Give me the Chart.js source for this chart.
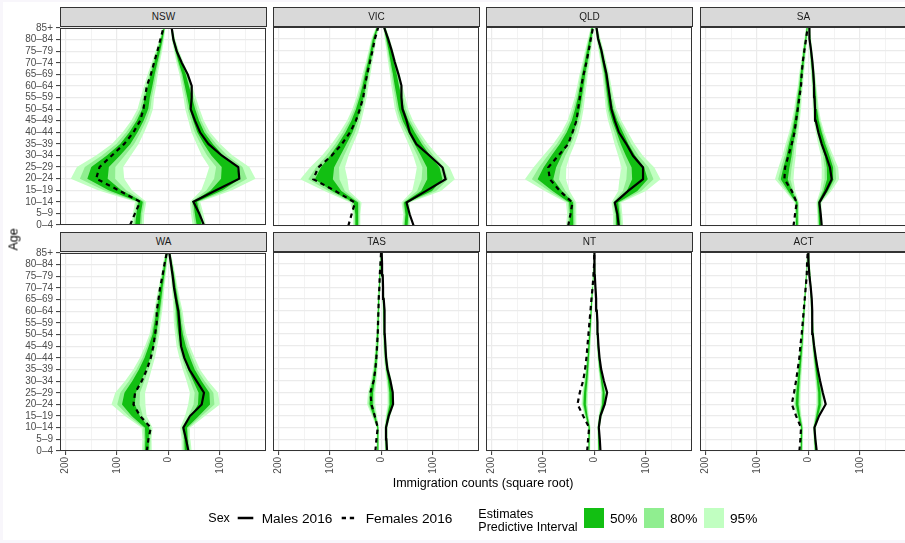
<!DOCTYPE html>
<html><head><meta charset="utf-8">
<script src="https://cdn.jsdelivr.net/npm/chart.js@4.4.1/dist/chart.umd.min.js"></script>
<style>
html,body{margin:0;padding:0;}
body{width:905px;height:543px;background:#f8f6fb;position:relative;overflow:hidden;font-family:"Liberation Sans",Arial,Helvetica,sans-serif;}
#bg{position:absolute;left:3px;top:2px;width:902px;height:538px;background:#fff;}
canvas{position:absolute;}
.strip{position:absolute;box-sizing:border-box;height:20px;background:#D9D9D9;border:1px solid #333;color:#1A1A1A;font-size:10px;text-align:center;line-height:18px;}
.txt{position:absolute;white-space:nowrap;color:#000;}
.box{position:absolute;width:20px;height:20px;}
</style></head><body>
<div id="bg"></div>
<div id="panels"></div>
<div class="txt" style="left:0;top:232px;width:28px;height:15px;font-size:12.5px;line-height:15px;text-align:center;transform:rotate(-90deg);transform-origin:14px 7.5px;">Age</div>
<div class="txt" style="left:283px;width:400px;top:475.5px;font-size:12.5px;line-height:15px;text-align:center;">Immigration counts (square root)</div>
<div class="txt" style="left:208.3px;top:511px;font-size:12.5px;line-height:15px;">Sex</div>
<svg style="position:absolute;left:237px;top:512px;" width="18" height="12"><line x1="0.7" y1="6" x2="16.3" y2="6" stroke="#000" stroke-width="2.5"/></svg>
<div class="txt" style="left:261.7px;top:510px;font-size:13.7px;line-height:17px;">Males 2016</div>
<svg style="position:absolute;left:341px;top:512px;" width="18" height="12"><line x1="0.7" y1="6" x2="15.7" y2="6" stroke="#000" stroke-width="2.5" stroke-dasharray="4.3 3.8"/></svg>
<div class="txt" style="left:365.7px;top:510px;font-size:13.7px;line-height:17px;">Females 2016</div>
<div class="txt" style="left:478.3px;top:507.5px;font-size:12.5px;line-height:13.5px;">Estimates<br>Predictive Interval</div>
<div class="box" style="left:584px;top:507.7px;background:#12BF12;"></div>
<div class="txt" style="left:610px;top:509.5px;font-size:13.7px;line-height:17px;">50%</div>
<div class="box" style="left:644px;top:507.7px;background:#90EE90;"></div>
<div class="txt" style="left:670px;top:509.5px;font-size:13.7px;line-height:17px;">80%</div>
<div class="box" style="left:704px;top:507.7px;background:#C1FFC1;"></div>
<div class="txt" style="left:730px;top:509.5px;font-size:13.7px;line-height:17px;">95%</div>
<script>
// ---------- categories & ticks ----------
const ages = ['0\u20134','5\u20139','10\u201314','15\u201319','20\u201324','25\u201329','30\u201334','35\u201339','40\u201344','45\u201349','50\u201354','55\u201359','60\u201364','65\u201369','70\u201374','75\u201379','80\u201384','85+'];
const states = ['NSW','VIC','QLD','SA','WA','TAS','NT','ACT'];
const xTickValues = [-200,-150,-100,-50,0,50,100,150];
const xTickLabels = ['200','','100','','0','','100',''];
const intervalLabels = ['50%','80%','95%'];

// ---------- NSW ----------
const nswMaleObs = [69, 60, 48.6, 92.7, 138, 136, 103.7, 77.8, 61.6, 51.8, 43.4, 45.4, 45.4, 37.6, 26, 16.2, 9.7, 6.5];
const nswMaleMid = [60, 56, 52, 94, 121, 118.6, 95, 77.8, 63, 54, 46.7, 41.5, 36, 30.5, 22.7, 16, 10, 6.5];
const nswMaleW95 = [13, 12, 10, 30, 48.6, 39, 30, 23, 18, 15, 14, 12, 10.5, 9, 7, 5, 3.5, 2];
const nswMaleW80 = [8.6, 7.9, 6.6, 19.8, 32, 25.7, 19.8, 15.2, 11.9, 9.9, 9.2, 7.9, 6.9, 5.9, 4.6, 3.3, 2.3, 1.3];
const nswMaleW50 = [4.9, 4.6, 3.8, 11.4, 18.5, 14.8, 11.4, 8.7, 6.8, 5.7, 5.3, 4.6, 4, 3.4, 2.7, 1.9, 1.3, 0.8];
const nswFemObs = [74.5, 65, 55, 97, 140.6, 134, 110, 86, 68, 55, 48.6, 45.4, 42, 34, 28, 21.4, 15.6, 9.7];
const nswFemMid = [60, 58, 54, 104, 138, 133, 107, 84, 68, 55, 45, 41, 35.6, 30.5, 24.6, 18.8, 13, 8.4];
const nswFemW95 = [12, 11, 11, 33, 52, 45, 34, 26, 21, 17.5, 15, 13, 11.7, 10, 8, 6.5, 4.5, 2.5];
const nswFemW80 = [7.9, 7.3, 7.3, 21.8, 34.3, 29.7, 22.4, 17.2, 13.9, 11.6, 9.9, 8.6, 7.7, 6.6, 5.3, 4.3, 3, 1.7];
const nswFemW50 = [4.6, 4.2, 4.2, 12.5, 19.8, 17.1, 12.9, 9.9, 8, 6.7, 5.7, 4.9, 4.4, 3.8, 3, 2.5, 1.7, 1];

// ---------- VIC ----------
const vicMaleObs = [63, 55, 49, 87, 125, 119, 94, 68, 55, 49, 41, 39, 39, 33, 26, 20, 13, 5];
const vicMaleMid = [48, 49.6, 47, 88, 104, 101, 86, 71.6, 58.6, 47, 39, 34.7, 30, 26, 21, 16.5, 11.3, 6];
const vicMaleW95 = [7.5, 7, 8, 28, 39, 32, 24, 19, 16, 14.5, 13, 12, 10.7, 9.7, 8, 6.5, 5, 2.5];
const vicMaleW80 = [5, 4.6, 5.3, 18.5, 25.7, 21.1, 15.8, 12.5, 10.6, 9.6, 8.6, 7.9, 7.1, 6.4, 5.3, 4.3, 3.3, 1.7];
const vicMaleW50 = [2.9, 2.7, 3, 10.6, 14.8, 12.2, 9.1, 7.2, 6.1, 5.5, 4.9, 4.6, 4.1, 3.7, 3, 2.5, 1.9, 1];
const vicFemObs = [64.5, 58, 51.5, 90, 132.5, 123, 97, 77, 61, 49.6, 41.8, 35.3, 32, 27.5, 22.4, 17.2, 12.6, 6];
const vicFemMid = [48, 48, 49.6, 87, 112, 105, 90, 76, 63, 53, 45, 38.6, 33.4, 28.8, 23.7, 19, 14.6, 7.5];
const vicFemW95 = [7, 7, 11, 24, 46, 34, 26, 21, 18, 14, 11.5, 10, 8.5, 7.8, 6.5, 5.8, 5, 3];
const vicFemW80 = [4.6, 4.6, 7.3, 15.8, 30.4, 22.4, 17.2, 13.9, 11.9, 9.2, 7.6, 6.6, 5.6, 5.1, 4.3, 3.8, 3.3, 2];
const vicFemW50 = [2.7, 2.7, 4.2, 9.1, 17.5, 12.9, 9.9, 8, 6.8, 5.3, 4.4, 3.8, 3.2, 3, 2.5, 2.2, 1.9, 1.1];

// ---------- QLD ----------
const qldMaleObs = [47.4, 44.7, 39.7, 65.7, 94.7, 94.7, 75.2, 62.3, 47.7, 39.7, 33.1, 29.9, 26.7, 23.4, 18.2, 13.7, 7.2, 4];
const qldMaleMid = [46.1, 45.4, 42.7, 73.3, 88.7, 84.7, 70.4, 58.7, 49.3, 39.7, 32.5, 28.7, 25.3, 22.1, 17.6, 13, 7.9, 3.3];
const qldMaleW95 = [10, 9, 9.5, 27, 40, 32, 24, 19.5, 16, 13, 10.4, 8.7, 7.5, 6.5, 5.8, 5, 3.9, 2.6];
const qldMaleW80 = [6.6, 5.9, 6.3, 17.8, 26.4, 21.1, 15.8, 12.9, 10.6, 8.6, 6.9, 5.7, 5, 4.3, 3.8, 3.3, 2.6, 1.7];
const qldMaleW50 = [3.8, 3.4, 3.6, 10.3, 15.2, 12.2, 9.1, 7.4, 6.1, 4.9, 4, 3.3, 2.9, 2.5, 2.2, 1.9, 1.5, 1];
const qldFemObs = [51.1, 46.6, 42.7, 67.3, 86.8, 90, 70.3, 51.1, 42.7, 34.9, 31.7, 28.3, 25.3, 20.7, 15.5, 10.9, 7, 2.5];
const qldFemMid = [45.3, 44, 45.3, 72.3, 95.3, 86.8, 73.8, 59.3, 47.3, 38.8, 33, 28.3, 24.3, 20.7, 16.1, 12.2, 7.7, 3.8];
const qldFemW95 = [10, 9, 10, 24, 40, 32, 26, 21, 17, 13.6, 12, 10, 9, 8, 7, 6, 5, 3];
const qldFemW80 = [6.6, 5.9, 6.6, 15.8, 26.4, 21.1, 17.2, 13.9, 11.2, 9, 7.9, 6.6, 5.9, 5.3, 4.6, 4, 3.3, 2];
const qldFemW50 = [3.8, 3.4, 3.8, 9.1, 15.2, 12.2, 9.9, 8, 6.5, 5.2, 4.6, 3.8, 3.4, 3, 2.7, 2.3, 1.9, 1.1];

// ---------- SA ----------
const saMaleObs = [26, 24, 21.4, 34.3, 45.4, 42, 34.3, 26, 19.4, 14.3, 13, 11.7, 11, 9.7, 7.8, 5.2, 2, 2];
const saMaleMid = [22.7, 21.7, 20.7, 33.7, 42.8, 42, 36.3, 29, 22.7, 17.5, 14.3, 13, 11, 9, 6.8, 4.9, 2.9, 1.3];
const saMaleW95 = [5, 4.5, 5, 11, 17, 16, 12, 10, 8.4, 7, 6, 5, 4.5, 4, 3.5, 3, 2.3, 2];
const saMaleW80 = [3.3, 3, 3.3, 7.3, 11.2, 10.6, 7.9, 6.6, 5.5, 4.6, 4, 3.3, 3, 2.6, 2.3, 2, 1.5, 1.3];
const saMaleW50 = [1.9, 1.7, 1.9, 4.2, 6.5, 6.1, 4.6, 3.8, 3.2, 2.7, 2.3, 1.9, 1.7, 1.5, 1.3, 1.1, 0.9, 0.8];
const saFemObs = [29, 26, 22.7, 32.4, 46.7, 45.4, 39, 32.4, 27, 24, 20.7, 17.5, 14.3, 13, 11, 7.8, 4.5, 1.3];
const saFemMid = [22.7, 22, 22.7, 35.6, 47, 42.8, 37.6, 33.7, 28.5, 24.6, 21, 18.8, 15.6, 13.3, 10.4, 8.1, 4.9, 2.3];
const saFemW95 = [4.5, 4, 4.5, 10, 18, 15.5, 13, 10.7, 9, 7.8, 6.8, 5.8, 5, 4.8, 4, 3.5, 3, 2.3];
const saFemW80 = [3, 2.6, 3, 6.6, 11.9, 10.2, 8.6, 7.1, 5.9, 5.1, 4.5, 3.8, 3.3, 3.2, 2.6, 2.3, 2, 1.5];
const saFemW50 = [1.7, 1.5, 1.7, 3.8, 6.8, 5.9, 4.9, 4.1, 3.4, 3, 2.6, 2.2, 1.9, 1.8, 1.5, 1.3, 1.1, 0.9];

// ---------- WA ----------
const waMaleObs = [39, 34.3, 29, 42, 64.8, 69.3, 55, 40.8, 31, 24.6, 22.7, 21.4, 19.4, 14.9, 11, 8.4, 5.2, 1.9];
const waMaleMid = [35.6, 34.3, 32.4, 51.8, 69.3, 69.3, 56.4, 44.7, 36.3, 29, 24, 20.7, 18.8, 15.6, 12.3, 9.4, 5.8, 2.3];
const waMaleW95 = [9.7, 8.7, 9.7, 19.4, 30.8, 27.5, 21, 16.8, 15, 13, 11, 10, 9, 7, 5.8, 4.8, 3.9, 2.3];
const waMaleW80 = [6.4, 5.7, 6.4, 12.8, 20.3, 18.2, 13.9, 11.1, 9.9, 8.6, 7.3, 6.6, 5.9, 4.6, 3.8, 3.2, 2.6, 1.5];
const waMaleW50 = [3.7, 3.3, 3.7, 7.4, 11.7, 10.5, 8, 6.4, 5.7, 4.9, 4.2, 3.8, 3.4, 2.7, 2.2, 1.8, 1.5, 0.9];
const waFemObs = [42, 38.9, 34.3, 55, 68, 64.8, 51.8, 42, 34.3, 29.2, 26, 22.7, 22.7, 19.4, 16.2, 11.7, 7.8, 3.2];
const waFemMid = [42, 41.5, 41.5, 63.5, 77.8, 74.5, 61.6, 50.5, 40.8, 33.7, 27.2, 24, 20, 16.8, 13.6, 10, 6.8, 3.2];
const waFemW95 = [9.7, 8.7, 10.7, 21, 33, 29, 22.7, 17.8, 14.6, 12, 9.7, 8.7, 7.8, 7, 5.8, 4.8, 4.2, 3.2];
const waFemW80 = [6.4, 5.7, 7.1, 13.9, 21.8, 19.1, 15, 11.7, 9.6, 7.9, 6.4, 5.7, 5.1, 4.6, 3.8, 3.2, 2.8, 2.1];
const waFemW50 = [3.7, 3.3, 4.1, 8, 12.5, 11, 8.6, 6.8, 5.5, 4.6, 3.7, 3.3, 3, 2.7, 2.2, 1.8, 1.6, 1.2];

// ---------- TAS ----------
const tasMaleObs = [11, 9.7, 9, 14.3, 22.7, 22, 17.5, 11.7, 9, 7.8, 6.5, 6.5, 5.8, 4.5, 3.2, 2.6, 1.3, 0.5];
const tasMaleMid = [10, 9.5, 9, 13, 18.5, 18, 15, 11, 8.5, 7, 6, 5.5, 5, 4, 3, 2.3, 1.5, 0.8];
const tasMaleW95 = [3, 3, 3, 4.5, 6.5, 6, 5, 4, 3.5, 3, 2.8, 2.5, 2.3, 2, 1.8, 1.5, 1.2, 1];
const tasMaleW80 = [2, 2, 2, 3, 4.3, 4, 3.3, 2.6, 2.3, 2, 1.8, 1.7, 1.5, 1.3, 1.2, 1, 0.8, 0.7];
const tasMaleW50 = [1.1, 1.1, 1.1, 1.7, 2.5, 2.3, 1.9, 1.5, 1.3, 1.1, 1.1, 1, 0.9, 0.8, 0.7, 0.6, 0.5, 0.4];
const tasFemObs = [11.7, 9.7, 7.1, 13, 19.4, 21.4, 15, 11.7, 9.7, 8.4, 7.1, 6.5, 5.8, 5.2, 3.9, 3.2, 1.9, 0.6];
const tasFemMid = [7, 7, 7, 13.5, 20, 19, 15, 12, 10, 8.5, 7.5, 6.8, 6, 5.2, 4.2, 3.2, 2.2, 1.2];
const tasFemW95 = [2.5, 2.5, 2.5, 5, 8, 7, 5.5, 4.5, 3.8, 3.3, 3, 2.7, 2.5, 2.2, 2, 1.6, 1.3, 1];
const tasFemW80 = [1.7, 1.7, 1.7, 3.3, 5.3, 4.6, 3.6, 3, 2.5, 2.2, 2, 1.8, 1.7, 1.5, 1.3, 1.1, 0.9, 0.7];
const tasFemW50 = [1, 1, 1, 1.9, 3, 2.7, 2.1, 1.7, 1.4, 1.3, 1.1, 1, 1, 0.8, 0.8, 0.6, 0.5, 0.4];

// ---------- NT ----------
const ntMaleObs = [11.8, 10.5, 8.6, 11.8, 20.2, 24.8, 18.3, 13.1, 9.9, 7.9, 6.6, 6, 4.7, 3.4, 2, 0.8, 0.2, 0];
const ntMaleMid = [9, 8.5, 8, 11.5, 17, 18, 14.5, 11, 8.8, 7.2, 6, 5.2, 4.3, 3.3, 2.3, 1.5, 0.8, 0.3];
const ntMaleW95 = [2.5, 2.3, 2.3, 3.5, 5, 5, 4, 3.2, 2.7, 2.3, 2, 1.8, 1.6, 1.4, 1.2, 1, 0.8, 0.6];
const ntMaleW80 = [1.7, 1.5, 1.5, 2.3, 3.3, 3.3, 2.6, 2.1, 1.8, 1.5, 1.3, 1.2, 1.1, 0.9, 0.8, 0.7, 0.5, 0.4];
const ntMaleW50 = [1, 0.9, 0.9, 1.3, 1.9, 1.9, 1.5, 1.2, 1, 0.9, 0.8, 0.7, 0.6, 0.5, 0.5, 0.4, 0.3, 0.2];
const ntFemObs = [14.1, 12.2, 10.2, 21.9, 32.9, 28.4, 21.9, 18, 15.4, 13.5, 11.5, 9.6, 7.6, 5.7, 3.5, 1.8, 0.5, 0.2];
const ntFemMid = [11, 10.5, 10, 15, 19, 18, 15.5, 13.5, 12, 10.5, 9, 7.7, 6.3, 5, 3.5, 2.3, 1.3, 0.6];
const ntFemW95 = [2.5, 2.5, 2.5, 4, 6, 5.5, 4.5, 3.8, 3.3, 3, 2.7, 2.5, 2.2, 2, 1.7, 1.4, 1.1, 0.8];
const ntFemW80 = [1.7, 1.7, 1.7, 2.6, 4, 3.6, 3, 2.5, 2.2, 2, 1.8, 1.7, 1.5, 1.3, 1.1, 0.9, 0.7, 0.5];
const ntFemW50 = [1, 1, 1, 1.5, 2.3, 2.1, 1.7, 1.4, 1.3, 1.1, 1, 1, 0.8, 0.8, 0.6, 0.5, 0.4, 0.3];

// ---------- ACT ----------
const actMaleObs = [16.2, 13.6, 11.7, 20.7, 33.7, 27.9, 22.7, 18.1, 14.3, 11, 8.4, 7.8, 7.1, 6.5, 4.5, 1.9, 0.3, 0];
const actMaleMid = [14, 13, 12, 17, 22, 21.5, 18.5, 15.5, 12.7, 10.5, 8.7, 7.7, 6.8, 5.8, 4.5, 3, 1.8, 0.8];
const actMaleW95 = [3, 3, 3, 4.5, 6.5, 6, 5, 4.3, 3.7, 3.2, 2.8, 2.5, 2.3, 2.1, 1.8, 1.5, 1.2, 0.8];
const actMaleW80 = [2, 2, 2, 3, 4.3, 4, 3.3, 2.8, 2.4, 2.1, 1.8, 1.7, 1.5, 1.4, 1.2, 1, 0.8, 0.5];
const actMaleW50 = [1.1, 1.1, 1.1, 1.7, 2.5, 2.3, 1.9, 1.6, 1.4, 1.2, 1.1, 1, 0.9, 0.8, 0.7, 0.6, 0.5, 0.3];
const actFemObs = [17.5, 15.6, 14.3, 24, 32.4, 27.9, 24, 20.7, 17.5, 15.6, 13, 11, 9.1, 7.1, 5.2, 3.2, 2.6, 1.3];
const actFemMid = [14, 13.5, 13, 18, 22, 21, 19, 17, 15, 13, 11.5, 10, 8.5, 7, 5.5, 4, 2.8, 1.5];
const actFemW95 = [3, 3, 3, 4.5, 6.5, 6, 5, 4.5, 4, 3.5, 3, 2.7, 2.4, 2.1, 1.8, 1.5, 1.2, 0.9];
const actFemW80 = [2, 2, 2, 3, 4.3, 4, 3.3, 3, 2.6, 2.3, 2, 1.8, 1.6, 1.4, 1.2, 1, 0.8, 0.6];
const actFemW50 = [1.1, 1.1, 1.1, 1.7, 2.5, 2.3, 1.9, 1.7, 1.5, 1.3, 1.1, 1, 0.9, 0.8, 0.7, 0.6, 0.5, 0.3];

// ---------- table built from the arrays ----------
const table = {
  NSW: {m: [nswMaleObs, nswMaleMid, nswMaleW50, nswMaleW80, nswMaleW95], f: [nswFemObs, nswFemMid, nswFemW50, nswFemW80, nswFemW95]},
  VIC: {m: [vicMaleObs, vicMaleMid, vicMaleW50, vicMaleW80, vicMaleW95], f: [vicFemObs, vicFemMid, vicFemW50, vicFemW80, vicFemW95]},
  QLD: {m: [qldMaleObs, qldMaleMid, qldMaleW50, qldMaleW80, qldMaleW95], f: [qldFemObs, qldFemMid, qldFemW50, qldFemW80, qldFemW95]},
  SA:  {m: [saMaleObs, saMaleMid, saMaleW50, saMaleW80, saMaleW95], f: [saFemObs, saFemMid, saFemW50, saFemW80, saFemW95]},
  WA:  {m: [waMaleObs, waMaleMid, waMaleW50, waMaleW80, waMaleW95], f: [waFemObs, waFemMid, waFemW50, waFemW80, waFemW95]},
  TAS: {m: [tasMaleObs, tasMaleMid, tasMaleW50, tasMaleW80, tasMaleW95], f: [tasFemObs, tasFemMid, tasFemW50, tasFemW80, tasFemW95]},
  NT:  {m: [ntMaleObs, ntMaleMid, ntMaleW50, ntMaleW80, ntMaleW95], f: [ntFemObs, ntFemMid, ntFemW50, ntFemW80, ntFemW95]},
  ACT: {m: [actMaleObs, actMaleMid, actMaleW50, actMaleW80, actMaleW95], f: [actFemObs, actFemMid, actFemW50, actFemW80, actFemW95]}
};

// ---------- styling / layout ----------
const FONT = '"Liberation Sans", Arial, Helvetica, sans-serif';
const bandColors = {50: '#12BF12', 80: '#90EE90', 95: '#C1FFC1'};
const X_MIN = -211, X_MAX = 190;
const COL_LEFT = [60, 273, 486, 700];
const ROW_TOP = [27, 252];
const PW = 206, PH = 199, YAX = 60, PAD = 8;

const framePlugin = {
  id: 'frame',
  afterDraw(chart) {
    const {ctx, chartArea: a} = chart;
    ctx.save();
    ctx.strokeStyle = '#333333';
    ctx.lineWidth = 1;
    ctx.strokeRect(a.left + 0.5, a.top + 0.5, a.right - a.left - 1, a.bottom - a.top - 1);
    ctx.restore();
  }
};

function bandPair(mid, w, sign, color, order) {
  const lo = mid.map((m, i) => ({x: sign * (m - w[i]), y: i}));
  const hi = mid.map((m, i) => ({x: sign * (m + w[i]), y: i}));
  return [
    {data: lo, borderWidth: 0, borderColor: 'rgba(0,0,0,0)', pointRadius: 0, fill: false, order},
    {data: hi, borderWidth: 0, borderColor: 'rgba(0,0,0,0)', pointRadius: 0, fill: '-1', backgroundColor: color, order}
  ];
}

function sexSets(arrs, sign) {
  const [obs, mid, w50, w80, w95] = arrs;
  return [
    ...bandPair(mid, w95, sign, bandColors[95], 3),
    ...bandPair(mid, w80, sign, bandColors[80], 2),
    ...bandPair(mid, w50, sign, bandColors[50], 1)
  ];
}

function lineSet(obs, sign) {
  return {
    data: obs.map((v, i) => ({x: sign * v, y: i})),
    borderColor: '#000', borderWidth: 2.2, borderDash: sign < 0 ? [4.5, 4] : [],
    pointRadius: 0, fill: false, tension: 0, order: 0
  };
}

const host = document.getElementById('panels');
states.forEach((st, k) => {
  const r = Math.floor(k / 4), c = k % 4;
  const leftCol = c === 0, bottomRow = r === 1;
  const xh = bottomRow ? 45 : 8;
  const cv = document.createElement('canvas');
  const w = YAX + PW + PAD, h = PAD + PH + xh;
  cv.width = w; cv.height = h;
  cv.style.left = (COL_LEFT[c] - YAX) + 'px';
  cv.style.top = (ROW_TOP[r] - PAD) + 'px';
  cv.style.width = w + 'px'; cv.style.height = h + 'px';
  host.appendChild(cv);

  const strip = document.createElement('div');
  strip.className = 'strip';
  strip.style.left = COL_LEFT[c] + 'px';
  strip.style.top = (ROW_TOP[r] - 20) + 'px';
  strip.style.width = (PW + 1) + 'px';
  strip.textContent = st;
  document.body.appendChild(strip);

  const d = table[st];
  const datasets = [
    ...sexSets(d.f, -1),
    ...sexSets(d.m, 1),
    lineSet(d.f[0], -1),
    lineSet(d.m[0], 1)
  ];

  new Chart(cv, {
    type: 'line',
    data: {datasets},
    plugins: [framePlugin],
    options: {
      indexAxis: 'y',
      responsive: false,
      animation: false,
      events: [],
      layout: {padding: {top: PAD, right: PAD, left: 0, bottom: 0}},
      plugins: {legend: {display: false}, tooltip: {enabled: false}},
      elements: {line: {tension: 0}},
      scales: {
        x: {
          type: 'linear', min: X_MIN, max: X_MAX,
          afterBuildTicks: s => { s.ticks = xTickValues.map(v => ({value: v})); },
          afterFit: s => { s.height = xh; },
          border: {display: false},
          grid: {
            color: '#EBEBEB',
            lineWidth: ctx => (ctx.tick && ctx.tick.value % 100 === 0) ? 1.2 : 0.6,
            drawTicks: bottomRow, tickLength: 4, tickWidth: 1,
            tickColor: ctx => (ctx.tick && ctx.tick.value % 100 === 0) ? '#333333' : 'rgba(0,0,0,0)'
          },
          ticks: {
            display: bottomRow, autoSkip: false, minRotation: 90, maxRotation: 90, padding: 2,
            color: '#4D4D4D', font: {family: FONT, size: 10},
            callback: (v, i) => xTickLabels[i]
          }
        },
        y: {
          type: 'linear', min: 0, max: ages.length - 1,
          afterBuildTicks: s => { s.ticks = ages.map((a, i) => ({value: i})); },
          afterFit: s => { s.width = YAX; },
          border: {display: false},
          grid: {color: '#EBEBEB', lineWidth: 1.2, drawTicks: leftCol, tickLength: 4, tickWidth: 1, tickColor: '#333333'},
          ticks: {
            display: leftCol, autoSkip: false, padding: 3,
            color: '#4D4D4D', font: {family: FONT, size: 10},
            callback: (v, i) => ages[i]
          }
        }
      }
    }
  });
});
</script>
</body></html>
